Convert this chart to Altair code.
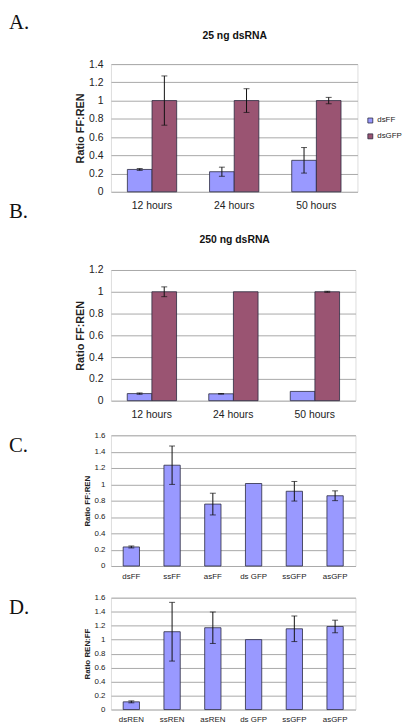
import altair as alt
import pandas as pd

FONT = "Liberation Sans"
SERIF = "Liberation Serif"

# ---- data ----
hours = ["12 hours", "24 hours", "50 hours"]
series = ["dsFF", "dsGFP"]

a_ff = [0.245, 0.22, 0.345]
a_ff_err = [0.01, 0.05, 0.14]
a_gfp = [1.0, 1.0, 1.0]
a_gfp_err = [0.27, 0.13, 0.035]

b_ff = [0.065, 0.063, 0.085]
b_ff_err = [0.006, 0.003, 0.0]
b_gfp = [1.0, 1.0, 1.0]
b_gfp_err = [0.045, 0.0, 0.005]

c_cats = ["dsFF", "ssFF", "asFF", "ds GFP", "ssGFP", "asGFP"]
c_vals = [0.233, 1.234, 0.758, 1.01, 0.915, 0.86]
c_err = [0.012, 0.235, 0.133, 0.0, 0.12, 0.06]

d_cats = ["dsREN", "ssREN", "asREN", "ds GFP", "ssGFP", "asGFP"]
d_vals = [0.11, 1.113, 1.17, 1.0, 1.155, 1.188]
d_err = [0.014, 0.42, 0.225, 0.0, 0.183, 0.09]

titles = ["25 ng dsRNA", "250 ng dsRNA"]
letters = ["A.", "B.", "C.", "D."]
ytitles = ["Ratio FF:REN", "Ratio FF:REN", "Ratio FF:REN", "Ratio REN:FF"]

yA = [0, 0.2, 0.4, 0.6, 0.8, 1, 1.2, 1.4]
yB = [0, 0.2, 0.4, 0.6, 0.8, 1, 1.2]
yC = [0, 0.2, 0.4, 0.6, 0.8, 1, 1.2, 1.4, 1.6]

COLORS = ["#9999FF", "#9A5472"]
BAR_STROKE = "#2a2a40"
ERR = "#111111"
GRID = "#A8A8A8"


def text_layer(txt, x, y, size, font=FONT, bold=False, align="left", baseline="alphabetic"):
    return alt.Chart(pd.DataFrame({"t": [txt]})).mark_text(
        align=align, baseline=baseline, font=font, fontSize=size,
        fontWeight="bold" if bold else "normal", color="#111111"
    ).encode(text="t:N", x=alt.value(x), y=alt.value(y))


def spacer(y):
    # invisible layout anchor that fixes where a panel's bounds begin / end
    return alt.Chart(pd.DataFrame({"s": [0]})).mark_rule(opacity=0, strokeWidth=0.1).encode(
        x=alt.value(0), x2=alt.value(1), y=alt.value(y))


def make_axes(size, tsize, lpad, xlpad, yvals, ytitle):
    xaxis = alt.Axis(labelAngle=0, labelFont=FONT, labelFontSize=size, labelColor="#222222",
                     labelPadding=xlpad, ticks=False, tickSize=0, domain=False, title=None)
    yaxis = alt.Axis(values=yvals, format="~g", title=ytitle, titleFont=FONT, titleFontSize=tsize,
                     titleFontWeight="bold", titleColor="#222222", titlePadding=3,
                     labelFont=FONT, labelFontSize=size, labelColor="#222222", labelPadding=lpad,
                     labelOverlap=False, ticks=False, tickSize=0, domain=False,
                     grid=True, gridColor=GRID, gridWidth=1)
    return xaxis, yaxis


def grouped(cats, ff, ff_err, gfp, gfp_err, ymax, yvals, ytitle, lx, ly):
    df = pd.DataFrame({
        "cat": cats * 2,
        "series": [series[0]] * len(cats) + [series[1]] * len(cats),
        "val": ff + gfp,
        "err": ff_err + gfp_err,
    })
    df["lo"] = df["val"] - df["err"]
    df["hi"] = df["val"] + df["err"]
    edf = df[df["err"] > 0]

    xaxis, yaxis = make_axes(10.5, 11, 8, 9, yvals, ytitle)
    xscale = alt.Scale(paddingInner=0.4, paddingOuter=0.2)
    yscale = alt.Scale(domain=[0, ymax], nice=False)
    xenc = alt.X("cat:N", sort=cats, title=None, scale=xscale, axis=xaxis)
    xo = alt.XOffset("series:N", sort=series, scale=alt.Scale(paddingInner=0, paddingOuter=0))

    def Y(f):
        return alt.Y(f, scale=yscale, axis=yaxis, title=ytitle)

    bars = alt.Chart(df).mark_bar(stroke=BAR_STROKE, strokeWidth=0.8).encode(
        x=xenc, xOffset=xo, y=Y("val:Q"),
        color=alt.Color("series:N", sort=series,
                        scale=alt.Scale(domain=series, range=COLORS),
                        legend=alt.Legend(title=None, orient="none", legendX=lx, legendY=ly,
                                          symbolType="square", symbolSize=25,
                                          symbolStrokeColor=BAR_STROKE, symbolStrokeWidth=0.8,
                                          labelFont=FONT, labelFontSize=8, labelColor="#222222",
                                          labelOffset=3, rowPadding=6, padding=0)),
    )
    rules = alt.Chart(edf).mark_rule(color=ERR, strokeWidth=1).encode(
        x=xenc, xOffset=xo, y=Y("lo:Q"), y2="hi:Q")
    cap_lo = alt.Chart(edf).mark_tick(color=ERR, size=6, thickness=1).encode(
        x=xenc, xOffset=xo, y=Y("lo:Q"))
    cap_hi = alt.Chart(edf).mark_tick(color=ERR, size=6, thickness=1).encode(
        x=xenc, xOffset=xo, y=Y("hi:Q"))
    return [bars, rules, cap_lo, cap_hi]


def single(cats, vals, errs, ymax, yvals, ytitle, xlpad=7):
    df = pd.DataFrame({"cat": cats, "val": vals, "err": errs})
    df["lo"] = df["val"] - df["err"]
    df["hi"] = df["val"] + df["err"]
    edf = df[df["err"] > 0]
    xaxis, yaxis = make_axes(8, 8, 6, xlpad, yvals, ytitle)
    xscale = alt.Scale(paddingInner=0.6, paddingOuter=0.3)
    yscale = alt.Scale(domain=[0, ymax], nice=False)
    xenc = alt.X("cat:N", sort=cats, title=None, scale=xscale, axis=xaxis)

    def Y(f):
        return alt.Y(f, scale=yscale, axis=yaxis, title=ytitle)

    bars = alt.Chart(df).mark_bar(stroke=BAR_STROKE, strokeWidth=0.8, color=COLORS[0]).encode(
        x=xenc, y=Y("val:Q"))
    rules = alt.Chart(edf).mark_rule(color=ERR, strokeWidth=1).encode(
        x=xenc, y=Y("lo:Q"), y2="hi:Q")
    cap_lo = alt.Chart(edf).mark_tick(color=ERR, size=6, thickness=1).encode(
        x=xenc, y=Y("lo:Q"))
    cap_hi = alt.Chart(edf).mark_tick(color=ERR, size=6, thickness=1).encode(
        x=xenc, y=Y("hi:Q"))
    return [bars, rules, cap_lo, cap_hi]


LX = -103

chartA = alt.layer(
    *grouped(hours, a_ff, a_ff_err, a_gfp, a_gfp_err, 1.4, yA, ytitles[0], 258, 53),
    text_layer(letters[0], LX, -35, 21, font=SERIF),
    text_layer(titles[0], 125, -28, 10.5, bold=True, align="center", baseline="middle"),
    text_layer(letters[1], LX, 155, 21, font=SERIF),
    spacer(163),
).properties(width=249, height=129)

chartB = alt.layer(
    *grouped(hours, b_ff, b_ff_err, b_gfp, b_gfp_err, 1.2, yB, ytitles[1], 258, 54),
    text_layer(titles[1], 125, -30, 10.5, bold=True, align="center", baseline="middle"),
    spacer(-43),
    spacer(156),
).properties(width=247, height=132)

chartC = alt.layer(
    *single(c_cats, c_vals, c_err, 1.6, yC, ytitles[2]),
    text_layer(letters[2], LX, 17, 21, font=SERIF),
    spacer(-9),
    spacer(153),
).properties(width=247, height=132)

chartD = alt.layer(
    *single(d_cats, d_vals, d_err, 1.6, yC, ytitles[3], xlpad=6),
    text_layer(letters[3], LX, 16, 21, font=SERIF),
    spacer(-9),
).properties(width=247, height=113)

chart = alt.vconcat(chartA, chartB, chartC, chartD, spacing=0).properties(
    padding=0
).configure_view(fill="#C0C0C0", stroke="#808080", strokeWidth=1).configure(background="white")

chart.save("out.html", embed_options={"renderer": "svg", "actions": False})
